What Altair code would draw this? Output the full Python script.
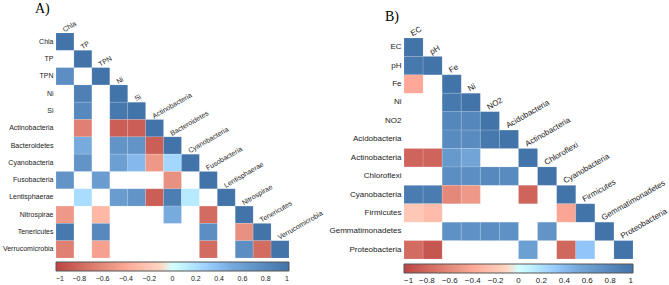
import altair as alt
import pandas as pd

N = None

# Panel A: correlation matrix (lower triangle, blanks = not significant)
a_names = ["Chla", "TP", "TPN", "Ni", "Si", "Actinobacteria", "Bacteroidetes",
           "Cyanobacteria", "Fusobacteria", "Lentisphaerae", "Nitrospirae",
           "Tenericutes", "Verrucomicrobia"]
a_values = [
    [1],
    [N, 1],
    [0.75, N, 1],
    [N, 0.88, N, 1],
    [N, 0.8, N, 0.95, 1],
    [N, -0.65, N, -0.85, -0.85, 1],
    [N, 0.5, N, 0.7, 0.7, -0.85, 1],
    [N, 0.7, N, 0.6, 0.42, -0.5, 0.25, 1],
    [0.7, N, 0.62, N, N, N, -0.55, N, 1],
    [N, 0.22, N, 0.62, 0.7, -0.85, 0.9, 0.15, N, 1],
    [-0.5, N, -0.3, N, N, N, 0.5, N, -0.78, N, 1],
    [0.95, N, 0.8, N, N, N, N, N, 0.75, N, -0.55, 1],
    [-0.65, N, -0.45, N, N, N, N, N, -0.78, N, 0.75, -0.78, 1],
]

# Panel B
b_names = ["EC", "pH", "Fe", "Ni", "NO2", "Acidobacteria", "Actinobacteria",
           "Chloroflexi", "Cyanobacteria", "Firmicutes", "Gemmatimonadetes",
           "Proteobacteria"]
b_values = [
    [1],
    [0.95, 1],
    [-0.4, N, 1],
    [N, N, 0.95, 1],
    [N, N, 0.82, 0.82, 1],
    [N, N, 0.78, 0.78, 0.95, 1],
    [-0.82, -0.82, 0.65, 0.55, N, N, 1],
    [N, N, 0.75, 0.75, 0.8, 0.78, N, 1],
    [0.92, 0.92, -0.6, -0.5, N, N, -0.82, N, 1],
    [-0.2, -0.27, N, N, N, N, N, N, -0.42, 1],
    [N, N, 0.72, 0.72, 0.75, 0.72, N, 0.7, N, N, 1],
    [-0.78, -0.9, N, N, N, N, 0.6, N, -0.8, 0.35, N, 1],
]

legend_ticks = [-1, -0.8, -0.6, -0.4, -0.2, 0, 0.2, 0.4, 0.6, 0.8, 1]
color_stops = [-1, -0.5, 0, 0.5, 1]
color_range = ["#BB4444", "#EE9988", "#FFFFFF", "#77AADD", "#4273A9"]

SANS = "Liberation Sans"
SERIF = "Liberation Serif"


def panel(names, values, w, h, fs, title, tdx, toff, ypad, loff):
    recs = []
    for i, row in enumerate(values):
        for j, v in enumerate(row):
            if v is not None:
                recs.append({"row": names[i], "col": names[j], "r": v})
    df = pd.DataFrame(recs)
    lab = pd.DataFrame({"row": names, "col": names})

    xs = alt.Scale(domain=names, paddingInner=0, paddingOuter=0)
    ys = alt.Scale(domain=names, paddingInner=0, paddingOuter=ypad)
    yaxis = alt.Axis(title=None, ticks=False, domain=False, labelPadding=3,
                     labelFontSize=fs, labelFont=SANS, labelColor="#222222",
                     labelLimit=300)

    rects = alt.Chart(df).mark_rect(stroke="white", strokeWidth=0.5,
                                    strokeOpacity=0.25).encode(
        x=alt.X("col:N", scale=xs, axis=None, sort=names),
        y=alt.Y("row:N", scale=ys, axis=yaxis, sort=names),
        color=alt.Color(
            "r:Q",
            scale=alt.Scale(domain=color_stops, range=color_range),
            legend=alt.Legend(
                title=None, orient="bottom", direction="horizontal",
                gradientLength=w, gradientThickness=9, values=legend_ticks,
                format=".1~f", labelFontSize=fs, labelFont=SANS,
                labelColor="#222222", gradientStrokeColor="#555555",
                gradientStrokeWidth=1, offset=loff, labelAlign="center",
                labelOffset=4, labelOverlap=False,
            ),
        ),
    )
    texts = alt.Chart(lab).mark_text(
        angle=330, align="left", baseline="bottom", fontSize=fs, font=SANS,
        color="#222222",
    ).encode(
        x=alt.X("col:N", scale=xs, axis=None, sort=names),
        y=alt.Y("row:N", scale=ys, axis=yaxis, sort=names, bandPosition=0),
        text="col:N",
    )
    return alt.layer(rects, texts).properties(
        width=w, height=h,
        title=alt.TitleParams(text=title, anchor="start", frame="group",
                              font=SERIF, fontSize=14, fontWeight="normal",
                              color="black", dx=tdx, offset=toff),
    )


pa = panel(a_names, a_values, 233, 225, 7, "A)", -21, 4, 0, 4)
pb = panel(b_names, b_values, 229, 231, 8, "B)", -19, 2, 0.2715, 0)

chart = alt.hconcat(pa, pb, spacing=4).resolve_scale(
    color="independent"
).properties(
    padding={"left": 2, "top": 1, "right": 0, "bottom": 0}
).configure_view(strokeWidth=0)

chart.save("out.html", embed_options={"renderer": "svg", "actions": False})
